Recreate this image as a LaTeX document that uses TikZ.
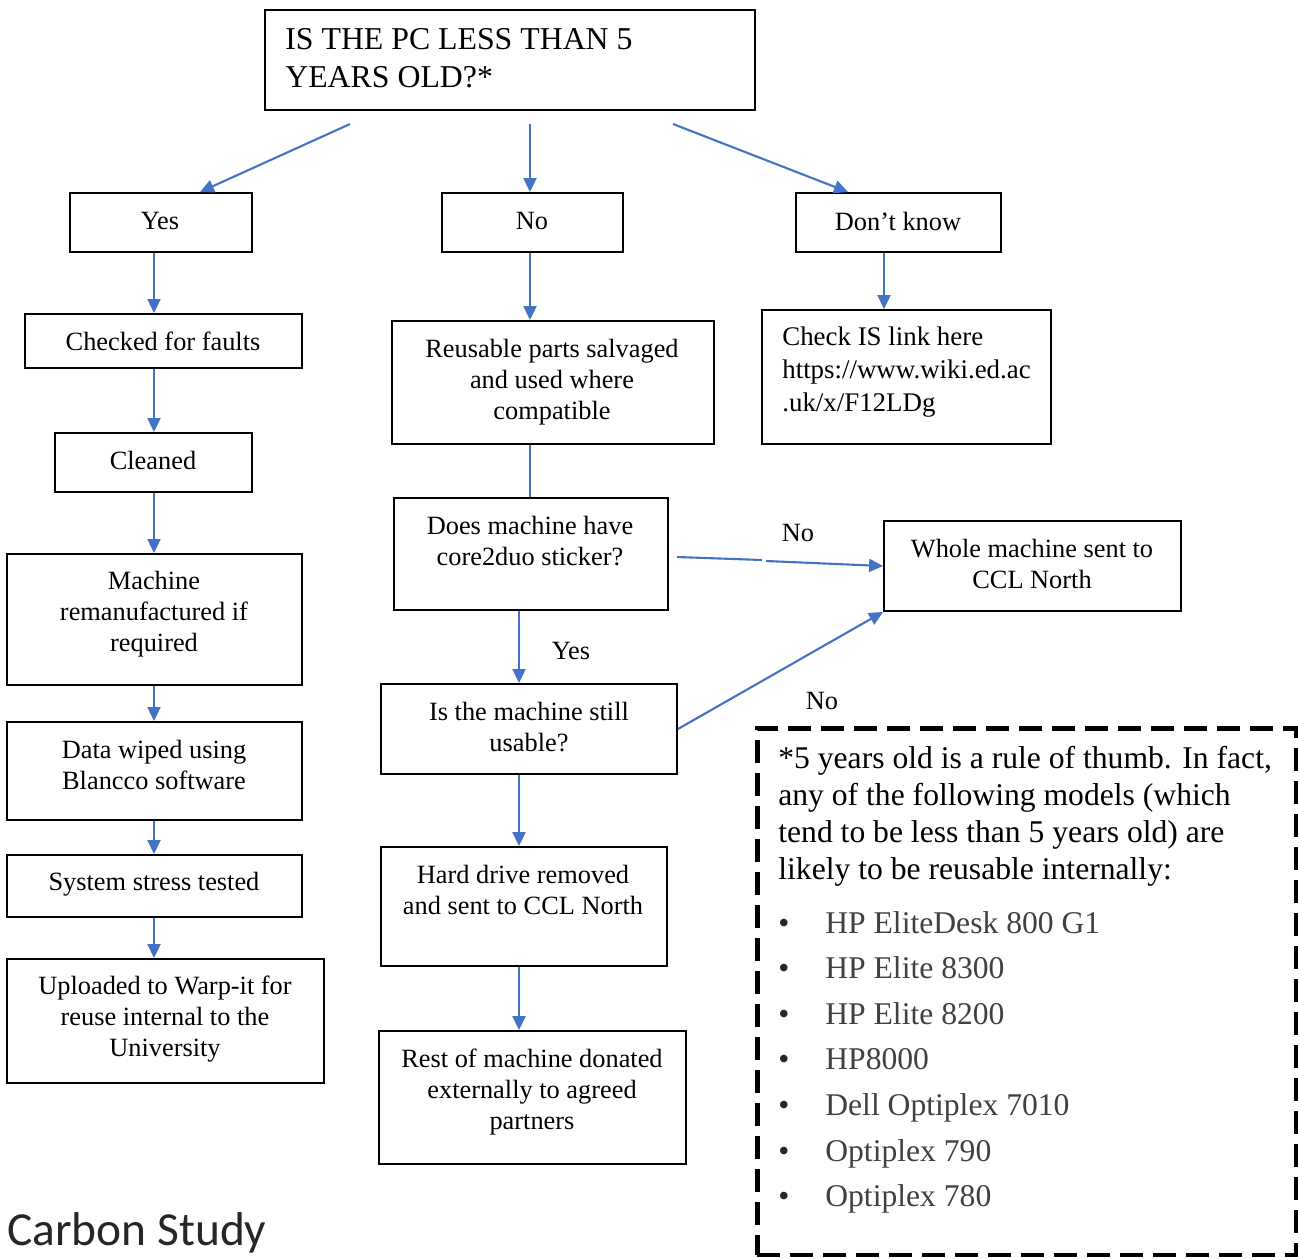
\documentclass[tikz,border=0pt]{standalone}
\usepackage{fontspec}
\setmainfont{Liberation Serif}
\newfontfamily\carlito{Carlito}
\usetikzlibrary{arrows.meta}
\definecolor{arrblue}{RGB}{68,114,196}
\definecolor{itemgrey}{RGB}{64,64,64}
\tikzstyle{box}=[draw,line width=1.1pt,inner sep=0pt]
\tikzstyle{txt}=[align=center,inner sep=0pt,font=\rmfamily\fontsize{15}{17.6}\selectfont]
\tikzstyle{arr}=[line width=1.2pt,color=arrblue,-{Triangle[length=0.28cm,width=0.26cm]}]
\tikzstyle{item}=[anchor=base west,inner sep=0pt,text=itemgrey,font=\fontsize{18}{21}\selectfont]

\begin{document}
\begin{tikzpicture}[x=0.02cm,y=-0.02cm]
\useasboundingbox (0,0) rectangle (1298,1258);
% boxes
\node[box, minimum width=9.8cm, minimum height=2cm] (top) at (510,60) {};
\node[box, minimum width=3.64cm, minimum height=1.18cm] (yes) at (161,222.5) {};
\node[box, minimum width=3.62cm, minimum height=1.18cm] (no) at (532.5,222.5) {};
\node[box, minimum width=4.1cm, minimum height=1.18cm] (dk) at (898.5,222.5) {};
\node[box, minimum width=5.54cm, minimum height=1.08cm] (faults) at (163.5,341) {};
\node[box, minimum width=3.94cm, minimum height=1.18cm] (clean) at (153.5,462.5) {};
\node[box, minimum width=5.9cm, minimum height=2.62cm] (reman) at (154.5,619.5) {};
\node[box, minimum width=5.9cm, minimum height=1.96cm] (wipe) at (154.5,771) {};
\node[box, minimum width=5.9cm, minimum height=1.24cm] (stress) at (154.5,886) {};
\node[box, minimum width=6.34cm, minimum height=2.48cm] (warp) at (165.5,1021) {};
\node[box, minimum width=6.44cm, minimum height=2.46cm] (salv) at (553,382.5) {};
\node[box, minimum width=5.78cm, minimum height=2.68cm] (link) at (906.5,377) {};
\node[box, minimum width=5.48cm, minimum height=2.24cm] (core) at (531,554) {};
\node[box, minimum width=5.94cm, minimum height=1.8cm] (whole) at (1032.5,566) {};
\node[box, minimum width=5.92cm, minimum height=1.8cm] (usable) at (529,729) {};
\node[box, minimum width=5.72cm, minimum height=2.38cm] (hdd) at (524,906.5) {};
\node[box, minimum width=6.14cm, minimum height=2.66cm] (rest) at (532.5,1097.5) {};
\node[draw, line width=2.8pt, dash pattern=on 0.46cm off 0.2cm, minimum width=10.78cm, minimum height=10.54cm] (note) at (1026.5,991.5) {};

% texts
\node[txt, anchor=west, align=left, font=\fontsize{18.1}{21.5}\selectfont] (topt) at (285,58) {IS THE PC LESS THAN 5\\YEARS OLD?*};
\node[txt] (yest) at (160,221) {Yes};
\node[txt] (not) at (532,221) {No};
\node[txt] (dkt) at (898,221) {Don’t know};
\node[txt] (faultst) at (163,341) {Checked for faults};
\node[txt] (cleant) at (153,460) {Cleaned};
\node[txt] (remant) at (154,614.5) {Machine\\remanufactured if\\required};
\node[txt] (wipet) at (154,765) {Data wiped using\\Blancco software};
\node[txt] (stresst) at (154,884) {System stress tested};
\node[txt] (warpt) at (165,1019) {Uploaded to Warp-it for\\reuse internal to the\\University};
\node[txt] (salvt) at (552,382) {Reusable parts salvaged\\and used where\\compatible};
\node[txt, anchor=west, align=left, font=\fontsize{15.3}{18.7}\selectfont] (linkt) at (782,372) {Check IS link here\\https://www.wiki.ed.ac\\.uk/x/F12LDg};
\node[txt] (coret) at (530,541) {Does machine have\\core2duo sticker?};
\node[txt] (wholet) at (1032,564) {Whole machine sent to\\CCL North};
\node[txt] (usablet) at (529,727) {Is the machine still\\usable?};
\node[txt] (hddt) at (523,890) {Hard drive removed\\and sent to CCL North};
\node[txt] (restt) at (532,1092) {Rest of machine donated\\externally to agreed\\partners};
\node[txt] (lno1) at (798,533) {No};
\node[txt] (lyes) at (571,651) {Yes};
\node[txt] (lno2) at (822,701) {No};

% note
\node[txt, anchor=north west, align=left, font=\fontsize{18}{21}\selectfont] (notet) at (778,746) {*5 years old is a rule of thumb. In fact,\\any of the following models (which\\tend to be less than 5 years old) are\\likely to be reusable internally:};
\foreach \t [count=\i] in {HP EliteDesk 800 G1, HP Elite 8300, HP Elite 8200, HP8000, Dell Optiplex 7010, Optiplex 790, Optiplex 780}
  \node[item] (m\i) at (778,{933+45.6*(\i-1)}) {\makebox[0.94cm][l]{\textcolor{black!85}{\textbullet}}\t};
\node[anchor=base west, inner sep=0pt, text=black!85, font=\carlito\fontsize{27}{30}\selectfont] (title) at (7,1245) {Carbon Study};

% connectors
\coordinate (lx) at (154,0);
\coordinate (mx) at (530,0);
\coordinate (nx) at (519,0);
\coordinate (rx) at (884,0);
\coordinate (t1) at (350,124);
\coordinate (t2) at (530,124);
\coordinate (t3) at (673,124);
\coordinate (c1) at (677,557);
\coordinate (g1) at (762,560);
\coordinate (g2) at (766,561);
\draw[arr] (t1) -- ([xshift=0.78cm]yes.north);
\draw[arr] (t2) -- (no.north -| mx);
\draw[arr] (t3) -- ([xshift=-1.01cm]dk.north);
\draw[arr] (yes.south -| lx) -- (faults.north -| lx);
\draw[arr] (faults.south -| lx) -- (clean.north -| lx);
\draw[arr] (clean.south -| lx) -- (reman.north -| lx);
\draw[arr] (reman.south -| lx) -- (wipe.north -| lx);
\draw[arr] (wipe.south -| lx) -- (stress.north -| lx);
\draw[arr] (stress.south -| lx) -- (warp.north -| lx);
\draw[arr] (no.south -| mx) -- (salv.north -| mx);
\draw[arr] (dk.south -| rx) -- (link.north -| rx);
\draw[arr, -] (salv.south -| mx) -- (core.north -| mx);
\draw[arr, -] (c1) -- (g1);
\draw[arr] (g2) -- (whole.west);
\draw[arr] (core.south -| nx) -- (usable.north -| nx);
\draw[arr] (usable.east) -- (whole.south west);
\draw[arr] (usable.south -| nx) -- (hdd.north -| nx);
\draw[arr] (hdd.south -| nx) -- (rest.north -| nx);
\end{tikzpicture}
\end{document}
